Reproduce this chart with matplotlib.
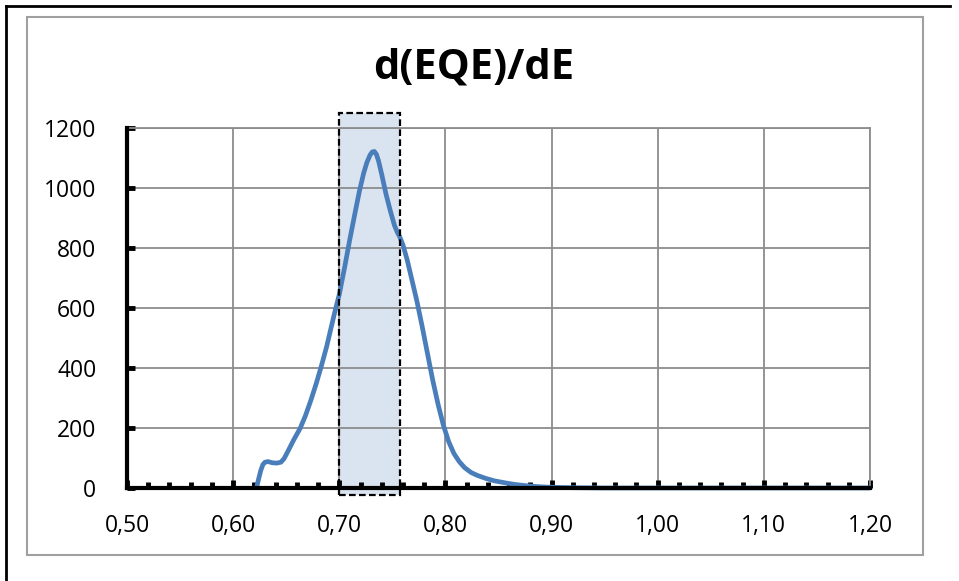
import matplotlib.pyplot as plt
from matplotlib.patches import Rectangle
from matplotlib.ticker import MultipleLocator, FuncFormatter

# d(EQE)/dE curve
energy = [0.622, 0.624, 0.626, 0.628, 0.630, 0.633, 0.637, 0.641, 0.645, 0.648,
          0.652, 0.657, 0.663, 0.668, 0.673, 0.678, 0.683, 0.688, 0.692, 0.696,
          0.700, 0.705, 0.710, 0.715, 0.719, 0.723, 0.726, 0.729, 0.731, 0.733,
          0.735, 0.737, 0.740, 0.744, 0.748, 0.752, 0.755, 0.757, 0.760, 0.764,
          0.768, 0.773, 0.778, 0.783, 0.788, 0.793, 0.798, 0.803, 0.808, 0.813,
          0.818, 0.824, 0.830, 0.838, 0.846, 0.855, 0.865, 0.875, 0.885, 0.895,
          0.905, 0.920, 0.950, 1.000, 1.100, 1.200]
deqe = [0, 30, 58, 78, 86, 88, 84, 83, 86, 98,
        125, 160, 198, 240, 290, 345, 405, 470, 530, 590,
        645, 735, 830, 920, 990, 1050, 1085, 1110, 1120, 1122,
        1112, 1090, 1045, 980, 925, 875, 850, 837, 810, 760,
        700, 625, 540, 450, 360, 280, 210, 155, 115, 88,
        68, 52, 42, 32, 24, 18, 12, 8, 5, 3,
        2, 1, 0, 0, 0, 0]

band_lo, band_hi = 0.70, 0.757
band_bottom, band_top = -23, 1250

fig = plt.figure(figsize=(9.59, 5.81), dpi=100)
fig.lines.append(plt.Line2D([6/959, 6/959], [0, 1-6/581], transform=fig.transFigure,
                            color='black', lw=2))
fig.lines.append(plt.Line2D([6/959, 950/959], [1-6/581, 1-6/581], transform=fig.transFigure,
                            color='black', lw=2))
fig.patches.append(Rectangle((27/959, 1-555/581), 896/959, 538/581, transform=fig.transFigure,
                             fill=False, edgecolor='#a0a0a0', lw=1.5))

ax = fig.add_axes([127/959, 1-488/581, 743/959, 360/581])
ax.set_xlim(0.5, 1.2)
ax.set_ylim(0, 1200)

ax.add_patch(Rectangle((band_lo, band_bottom), band_hi-band_lo, band_top-band_bottom,
                       facecolor='#dae3f0', edgecolor='none', zorder=0.3, clip_on=False))
ax.add_patch(Rectangle((band_lo, band_bottom), band_hi-band_lo, band_top-band_bottom,
                       fill=False, edgecolor='black', lw=1.6, linestyle=(0, (3, 1.5)),
                       zorder=4, clip_on=False))

ax.plot(energy, deqe, color='#4a7ebb', lw=3.4, solid_joinstyle='round',
        solid_capstyle='butt', zorder=3, clip_on=False)

ax.set_axisbelow(True)
ax.grid(True, which='major', color='#8c8c8c', lw=1.3)
ax.xaxis.set_major_locator(MultipleLocator(0.1))
ax.xaxis.set_minor_locator(MultipleLocator(0.02))
ax.yaxis.set_major_locator(MultipleLocator(200))
ax.xaxis.set_major_formatter(FuncFormatter(lambda v, p: f"{v:.2f}".replace('.', ',')))

for s in ['left', 'bottom']:
    ax.spines[s].set_linewidth(3)
    ax.spines[s].set_color('black')
    ax.spines[s].set_zorder(3.5)
for s in ['top', 'right']:
    ax.spines[s].set_linewidth(1.3)
    ax.spines[s].set_color('#8c8c8c')

ax.tick_params(axis='both', which='major', direction='in', length=6, width=3.5,
               color='black', labelsize=16.5)
ax.tick_params(axis='x', which='minor', direction='in', length=4, width=3.5, color='black')
ax.tick_params(axis='x', which='major', pad=19)
ax.tick_params(axis='y', which='major', pad=22)
for lab in ax.get_xticklabels() + ax.get_yticklabels():
    lab.set_family('Open Sans')

fig.text(474/959, 1-68/581, 'd(EQE)/dE', ha='center', va='center', fontsize=30,
         fontweight='bold', family='Open Sans')

fig.savefig('out.png', dpi=100)
